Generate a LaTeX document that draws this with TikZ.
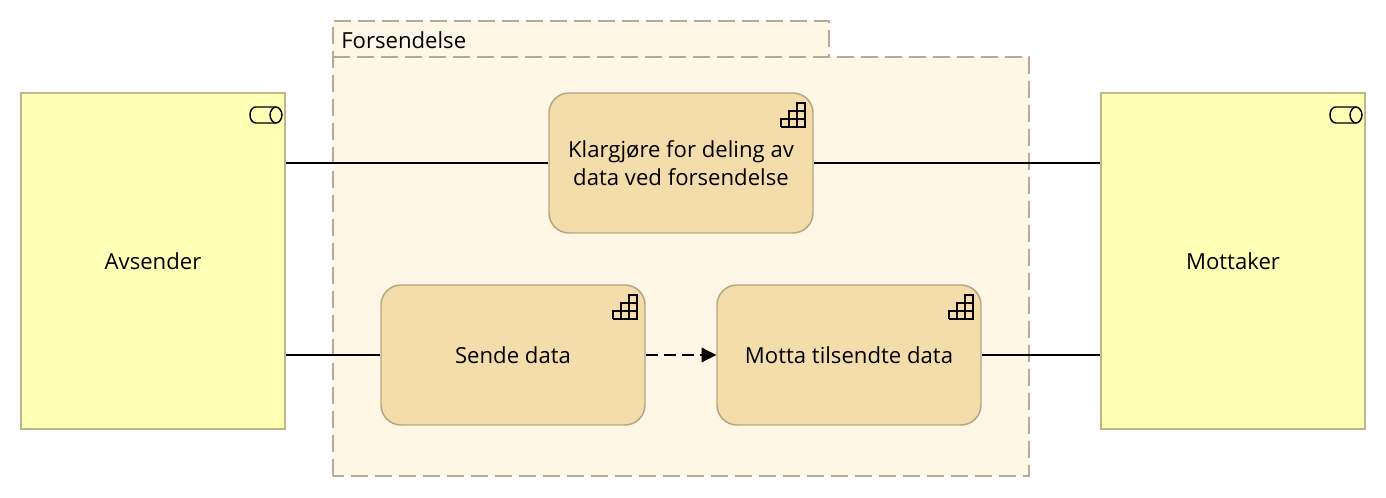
\documentclass[tikz,border=0pt]{standalone}
\usepackage{fontspec}
\setmainfont{Open Sans}
\usetikzlibrary{arrows.meta}
\definecolor{grpfill}{HTML}{FFF7E6}
\definecolor{grpline}{HTML}{B3AA9A}
\definecolor{yelfill}{HTML}{FFFFB5}
\definecolor{yelline}{HTML}{B8B88A}
\definecolor{begfill}{HTML}{F4DDAB}
\definecolor{begline}{HTML}{B5A583}
\tikzset{
  x=0.75pt, y=-0.75pt,
  every node/.style={font=\fontsize{16.6}{21}\selectfont, text=black, inner sep=0pt, align=center},
  actor/.style={draw=yelline, fill=yelfill, line width=1.1pt, minimum width=198pt, minimum height=252pt},
  func/.style={draw=begline, fill=begfill, line width=1.1pt, rounded corners=15pt, minimum width=198pt, minimum height=105pt},
  conn/.style={draw=black, line width=0.85pt},
  trig/.style={conn, dash pattern=on 9pt off 4.5pt, -{Triangle[length=11pt,width=11pt]}},
  pics/stairs/.style={code={
    \draw[black, line width=1.5pt]
      (0,0) -- (24,0) -- (24,-24) -- (16,-24) -- (16,0)
      (0,0) -- (0,-8) -- (24,-8)
      (8,0) -- (8,-16) -- (24,-16);
  }},
  pics/cyl/.style={code={
    \draw[black, line width=1.1pt]
      (26,-8) -- (6,-8) .. controls (2,-8) and (0,-4) .. (0,0) .. controls (0,4) and (2,8) .. (6,8) -- (26,8);
    \draw[black, line width=1.1pt]
      (26,-8) .. controls (23,-8) and (20,-4) .. (20,0) .. controls (20,4) and (23,8) .. (26,8)
      .. controls (29,8) and (32,4) .. (32,0) .. controls (32,-4) and (29,-8) .. (26,-8);
  }}
}
\begin{document}
\begin{tikzpicture}
\useasboundingbox[fill=white] (0,0) rectangle (1386,498);
% group
\path[fill=grpfill] (333,21) -- (829,21) -- (829,57) -- (1029,57) -- (1029,476) -- (333,476) -- cycle;
\draw[grpline, line width=1.1pt, dash pattern=on 13pt off 5pt]
  (333,476) -- (333,21) -- (829,21) -- (829,57)
  (333,57) -- (1029,57) -- (1029,476) -- (333,476);
\node[anchor=west] (glabel) at (341,40) {Forsendelse};
% nodes
\node[actor] (avs) at (153,261) {Avsender};
\node[actor] (mot) at (1233,261) {Mottaker};
\node[func] (klar) at (681,163) {Klargjøre for deling av\\data ved forsendelse};
\node[func] (send) at (513,355) {Sende data};
\node[func] (motta) at (849,355) {Motta tilsendte data};
% icons
\pic at (781,127) {stairs};
\pic at (613,319) {stairs};
\pic at (949,319) {stairs};
\pic at (250,115) {cyl};
\pic at (1330,115) {cyl};
% connectors
\draw[conn] (avs.east |- klar.west) -- (klar.west);
\draw[conn] (klar.east) -- (mot.west |- klar.east);
\draw[conn] (avs.east |- send.west) -- (send.west);
\draw[conn] (motta.east) -- (mot.west |- motta.east);
\draw[trig] (send.east) -- (motta.west);
\end{tikzpicture}
\end{document}
